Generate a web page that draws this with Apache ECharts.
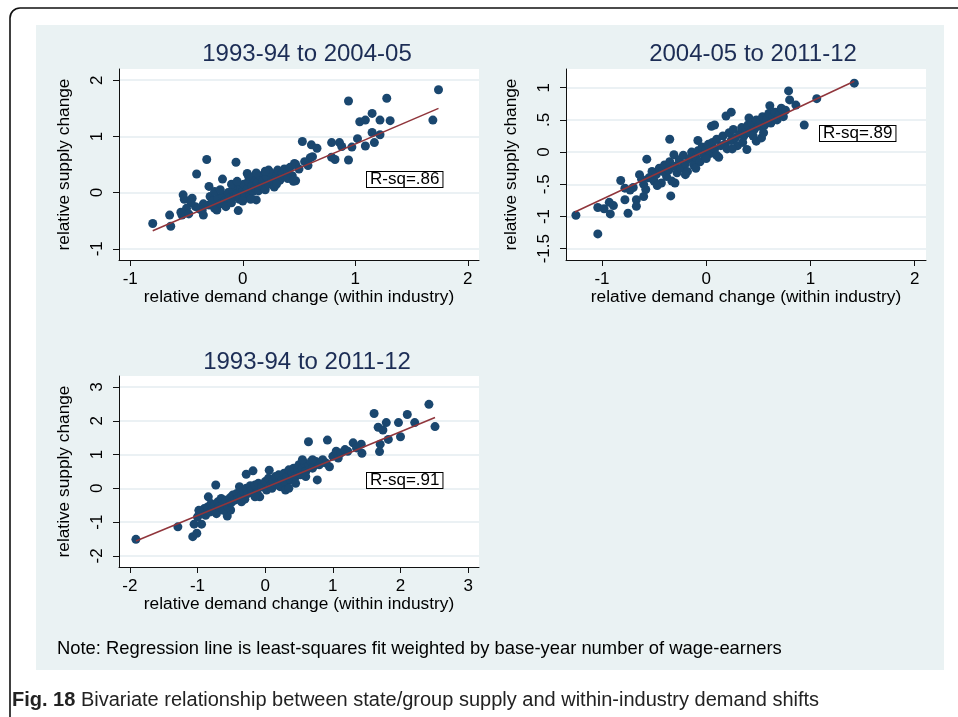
<!DOCTYPE html>
<html><head><meta charset="utf-8">
<script src="https://cdn.jsdelivr.net/npm/echarts@6/dist/echarts.min.js"></script>
<style>html,body{margin:0;padding:0;background:#fff}#c{width:958px;height:717px}</style>
</head><body><div id="c"></div>
<script>
// ---------- data ----------
const panelTitles = ['1993-94 to 2004-05', '2004-05 to 2011-12', '1993-94 to 2011-12'];
const rsqLabels = ['R-sq=.86', 'R-sq=.89', 'R-sq=.91'];
const xAxisName = 'relative demand change (within industry)';
const yAxisName = 'relative supply change';
const noteText = 'Note: Regression line is least-squares fit weighted by base-year number of wage-earners';
const captionBold = 'Fig. 18';
const captionText = ' Bivariate relationship between state/group supply and within-industry demand shifts';

const p1XTicks = [-1, 0, 1, 2];
const p1YTicks = [-1, 0, 1, 2];
const p2XTicks = [-1, 0, 1, 2];
const p2YTicks = [-1.5, -1, -0.5, 0, 0.5, 1];
const p3XTicks = [-2, -1, 0, 1, 2, 3];
const p3YTicks = [-2, -1, 0, 1, 2, 3];

const p1Fit = [[-0.80, -0.68], [1.74, 1.50]];
const p2Fit = [[-1.26, -0.93], [1.42, 1.10]];
const p3Fit = [[-1.91, -1.56], [2.51, 2.10]];

const p1Points = [
  [-0.80,-0.55],[-0.65,-0.40],[-0.64,-0.60],[-0.54,-0.40],[-0.53,-0.04],[-0.52,-0.12],[-0.45,-0.10],
  [-0.41,0.33],[-0.32,0.59],[-0.36,-0.31],[-0.35,-0.40],[-0.30,0.11],[-0.29,-0.07],[-0.23,-0.31],
  [-0.18,0.24],[-0.06,0.54],[-0.04,-0.32],[0.04,0.34],[0.12,-0.13],[0.23,0.40],[0.27,0.14],[0.45,0.20],
  [0.46,0.52],[0.53,0.91],[0.62,0.64],[0.61,0.85],[0.66,0.79],[0.60,0.62],[0.47,0.21],[0.79,0.89],
  [0.86,0.89],[0.88,0.82],[0.79,0.63],[0.82,0.59],[0.94,1.63],[0.94,0.58],[0.97,0.81],[1.02,0.96],
  [1.04,1.26],[1.09,1.29],[1.09,0.83],[1.15,1.41],[1.15,1.07],[1.17,0.89],[1.22,1.29],[1.22,1.03],
  [1.28,1.68],[1.31,1.28],[1.69,1.29],[1.74,1.83],
  [-0.30,-0.22],[-0.27,-0.15],[-0.25,-0.28],[-0.22,-0.10],[-0.20,-0.20],[-0.18,-0.05],[-0.16,-0.15],
  [-0.15,-0.25],[-0.13,0.00],[-0.12,-0.10],[-0.10,-0.18],[-0.09,0.05],[-0.08,-0.08],[-0.06,0.10],
  [-0.05,-0.02],[-0.03,-0.12],[-0.02,0.08],[0.00,0.02],[0.01,0.15],[0.02,-0.05],[0.04,0.06],[0.05,0.20],
  [0.06,-0.08],[0.08,0.12],[0.09,0.02],[0.10,0.25],[0.11,0.08],[0.13,0.18],[0.14,0.03],[0.15,0.30],
  [0.17,0.12],[0.18,0.22],[0.20,0.05],[0.21,0.28],[0.23,0.15],[0.25,0.35],[0.26,0.20],[0.28,0.10],
  [0.30,0.30],[0.31,0.40],[0.33,0.22],[0.35,0.35],[0.37,0.42],[0.38,0.28],[0.40,0.38],[0.42,0.45],
  [0.44,0.30],[0.47,0.50],[0.50,0.42],[0.55,0.55],[0.58,0.48],[0.40,0.25],[0.45,0.22],[0.30,0.15],
  [-0.35,-0.20],[-0.38,-0.30],[-0.42,-0.25],[-0.46,-0.18],[-0.50,-0.28],[-0.55,-0.35],[-0.48,-0.38],
  [-0.25,0.02],[-0.20,0.05],[-0.10,0.15],[0.00,-0.15],[0.07,-0.12],[0.12,0.35],[0.20,0.38],[0.05,0.30],
  [-0.05,0.20]
];

const p2Points = [
  [-1.25,-0.98],[-1.04,-1.27],[-1.04,-0.86],[-0.98,-0.88],[-0.92,-0.96],[-0.93,-0.78],[-0.89,-0.83],
  [-0.82,-0.44],[-0.78,-0.56],[-0.78,-0.74],[-0.75,-0.95],[-0.73,-0.59],[-0.67,-0.74],[-0.67,-0.84],
  [-0.64,-0.35],[-0.60,-0.69],[-0.57,-0.11],[-0.35,0.20],[-0.34,-0.68],[-0.30,-0.48],[-0.31,-0.04],
  [-0.08,0.18],[0.05,0.40],[0.08,0.42],[0.19,0.56],[0.24,0.62],[0.39,0.04],[0.41,0.53],[0.48,0.17],
  [0.53,0.22],[0.79,0.95],[0.80,0.81],[0.86,0.73],[0.94,0.42],[1.06,0.83],[1.42,1.07],[0.61,0.72],
  [-0.55,-0.40],[-0.52,-0.30],[-0.50,-0.45],[-0.48,-0.35],[-0.45,-0.25],[-0.43,-0.48],[-0.42,-0.30],
  [-0.40,-0.20],[-0.38,-0.38],[-0.36,-0.28],[-0.35,-0.15],[-0.33,-0.45],[-0.30,-0.22],[-0.28,-0.32],
  [-0.26,-0.12],[-0.24,-0.25],[-0.22,-0.05],[-0.20,-0.18],[-0.18,-0.30],[-0.16,-0.10],[-0.14,0.00],
  [-0.12,-0.20],[-0.10,-0.08],[-0.08,0.02],[-0.06,-0.15],[-0.04,0.08],[-0.02,-0.05],[0.00,0.05],
  [0.02,0.12],[0.04,-0.02],[0.06,0.15],[0.08,0.05],[0.10,0.20],[0.12,-0.08],[0.14,0.10],[0.16,0.25],
  [0.18,0.12],[0.20,0.05],[0.22,0.30],[0.24,0.18],[0.26,0.35],[0.28,0.22],[0.30,0.10],[0.32,0.28],
  [0.34,0.38],[0.36,0.25],[0.38,0.32],[0.40,0.42],[0.42,0.30],[0.44,0.45],[0.46,0.35],[0.48,0.50],
  [0.50,0.40],[0.52,0.48],[0.54,0.55],[0.56,0.42],[0.58,0.52],[0.60,0.60],[0.62,0.45],[0.64,0.55],
  [0.66,0.62],[0.68,0.50],[0.70,0.58],[0.72,0.68],[0.74,0.55],[0.76,0.65],[-0.60,-0.50],[-0.62,-0.42],
  [-0.58,-0.58],[-0.70,-0.55],[-0.47,-0.52],[-0.20,-0.35],[-0.10,-0.25],[0.00,-0.10],[0.10,-0.05],
  [0.25,0.05],[0.35,0.15],[0.45,0.25],[0.55,0.30]
];

const p3Points = [
  [-1.91,-1.51],[-1.29,-1.14],[-1.07,-1.43],[-1.01,-1.33],[-1.05,-1.06],[-0.94,-1.06],[-0.97,-0.69],
  [-0.84,-0.25],[-0.73,0.10],[-0.70,-0.64],[-0.56,-0.82],[-0.51,-0.64],[-0.28,0.42],[-0.18,0.52],
  [-0.08,-0.25],[0.06,0.54],[0.64,1.38],[0.92,1.43],[0.77,0.25],[0.95,0.64],[1.30,1.35],[1.42,1.31],
  [1.43,1.04],[1.61,2.22],[1.67,1.81],[1.70,1.31],[1.69,1.09],[1.74,1.73],[1.79,1.95],[1.82,1.45],
  [1.97,1.95],[2.00,1.53],[2.10,2.19],[2.21,1.95],[2.42,2.49],[2.51,1.83],
  [-0.95,-0.75],[-0.90,-0.60],[-0.88,-0.80],[-0.85,-0.55],[-0.82,-0.70],[-0.80,-0.45],[-0.78,-0.62],
  [-0.75,-0.50],[-0.72,-0.75],[-0.70,-0.40],[-0.68,-0.55],[-0.65,-0.30],[-0.62,-0.65],[-0.60,-0.45],
  [-0.58,-0.35],[-0.55,-0.55],[-0.52,-0.28],[-0.50,-0.42],[-0.48,-0.20],[-0.45,-0.35],[-0.42,-0.15],
  [-0.40,-0.30],[-0.38,0.05],[-0.35,-0.22],[-0.32,-0.10],[-0.30,-0.32],[-0.28,0.00],[-0.25,-0.15],
  [-0.22,0.08],[-0.20,-0.05],[-0.15,0.10],[-0.12,-0.12],[-0.10,0.15],[-0.05,0.05],[0.00,0.20],
  [0.02,-0.05],[0.05,0.30],[0.08,0.10],[0.10,0.00],[0.12,0.20],[0.15,0.35],[0.18,0.12],[0.20,0.40],
  [0.22,0.05],[0.25,0.25],[0.28,0.45],[0.30,0.15],[0.32,0.35],[0.35,0.55],[0.38,0.25],[0.40,0.45],
  [0.42,0.60],[0.45,0.35],[0.48,0.55],[0.50,0.70],[0.52,0.40],[0.55,0.60],[0.58,0.75],[0.60,0.50],
  [0.65,0.70],[0.68,0.80],[0.70,0.60],[0.75,0.80],[0.80,0.70],[0.85,0.85],[0.90,0.75],[1.00,0.95],
  [1.05,1.10],[1.08,0.90],[1.12,1.05],[1.18,1.15],[1.22,1.10],[1.35,1.20],[-1.00,-0.85],[-0.98,-0.65],
  [0.30,-0.05],[0.45,0.15],[0.60,0.35],[0.35,0.00],[-0.15,-0.25],[-0.35,-0.40],[0.70,0.85],[0.55,0.85]
];

// ---------- styling ----------
const FONT = '"Liberation Sans", Arial, sans-serif';
const DOT = '#1a476f';
const FITC = '#90353b';
const AXC = '#111';
const GRIDC = '#e4edf0';
const BG = '#eaf2f3';
const TICKFS = 17;
const NAMEFS = 17.3;

function fmt(v) { return String(v).replace(/^(-?)0\./, '$1.'); }

function xAxisCfg(gi, min, max, ticks) {
  return {
    gridIndex: gi, type: 'value', min: min, max: max,
    name: xAxisName, nameLocation: 'middle', nameGap: 26,
    nameTextStyle: { fontSize: NAMEFS, color: '#000', fontFamily: FONT },
    axisLine: { show: true, onZero: false, lineStyle: { color: AXC, width: 1 } },
    axisTick: { show: true, length: 6, customValues: ticks, lineStyle: { color: AXC, width: 1 } },
    axisLabel: { customValues: ticks, margin: 11, fontSize: TICKFS, color: '#000', fontFamily: FONT, formatter: fmt },
    splitLine: { show: false }
  };
}
function yAxisCfg(gi, min, max, ticks) {
  return {
    gridIndex: gi, type: 'value', min: min, max: max,
    name: yAxisName, nameLocation: 'middle', nameGap: 46,
    nameTextStyle: { fontSize: NAMEFS, color: '#000', fontFamily: FONT },
    axisLine: { show: true, onZero: false, lineStyle: { color: AXC, width: 1 } },
    axisTick: { show: true, length: 6, customValues: ticks, lineStyle: { color: AXC, width: 1 } },
    axisLabel: { customValues: ticks, margin: 13, rotate: 90, fontSize: TICKFS, color: '#000', fontFamily: FONT, formatter: fmt },
    splitLine: { show: true, lineStyle: { color: GRIDC, width: 1.5 } }
  };
}
function scatterS(i, data) {
  return { type: 'scatter', xAxisIndex: i, yAxisIndex: i, data: data, symbolSize: 9,
    itemStyle: { color: DOT, opacity: 1 }, silent: true, z: 2 };
}
function fitS(i, data) {
  return { type: 'line', xAxisIndex: i, yAxisIndex: i, data: data, symbol: 'none',
    lineStyle: { color: FITC, width: 1.5 }, silent: true, z: 3 };
}
function rsqBox(txt, x, y) {
  return { type: 'text', x: x, y: y, z: 50,
    style: { text: txt, fontSize: 17, fontFamily: FONT, fill: '#000',
      backgroundColor: '#fff', borderColor: '#000', borderWidth: 1,
      padding: [0, 3, 0, 3], lineHeight: 15 } };
}
const titleStyle = { fontSize: 24, fontWeight: 'normal', color: '#1c2d55', fontFamily: FONT };

const chart = echarts.init(document.getElementById('c'), null, { renderer: 'canvas' });
chart.setOption({
  animation: false,
  backgroundColor: '#fff',
  title: [
    { text: panelTitles[0], left: 302, top: 37, textAlign: 'center', textStyle: titleStyle },
    { text: panelTitles[1], left: 748, top: 37, textAlign: 'center', textStyle: titleStyle },
    { text: panelTitles[2], left: 302, top: 345, textAlign: 'center', textStyle: titleStyle }
  ],
  grid: [
    { left: 119, top: 69, width: 360, height: 191, show: true, backgroundColor: '#fff', borderWidth: 0 },
    { left: 566, top: 69, width: 360, height: 191, show: true, backgroundColor: '#fff', borderWidth: 0 },
    { left: 119, top: 376, width: 360, height: 191, show: true, backgroundColor: '#fff', borderWidth: 0 }
  ],
  xAxis: [
    xAxisCfg(0, -1.1, 2.1, p1XTicks),
    xAxisCfg(1, -1.345, 2.108, p2XTicks),
    xAxisCfg(2, -2.16, 3.16, p3XTicks)
  ],
  yAxis: [
    yAxisCfg(0, -1.2, 2.2, p1YTicks),
    yAxisCfg(1, -1.675, 1.29, p2YTicks),
    yAxisCfg(2, -2.33, 3.33, p3YTicks)
  ],
  series: [
    scatterS(0, p1Points), fitS(0, p1Fit),
    scatterS(1, p2Points), fitS(1, p2Fit),
    scatterS(2, p3Points), fitS(2, p3Fit)
  ],
  graphic: [
    { type: 'rect', z: -100, silent: true, shape: { x: 36, y: 25, width: 908, height: 645 }, style: { fill: BG } },
    { type: 'rect', z: -90, silent: true, shape: { x: 10, y: 8, width: 1000, height: 760, r: 10 }, style: { fill: 'none', stroke: '#111', lineWidth: 1.6 } },
    rsqBox(rsqLabels[0], 367, 172),
    rsqBox(rsqLabels[1], 820, 126),
    rsqBox(rsqLabels[2], 367, 473),
    { type: 'text', x: 57, y: 649, z: 50, style: { text: noteText, fontSize: 18.4, fontFamily: FONT, fill: '#000', verticalAlign: 'middle' } },
    { type: 'text', x: 12, y: 700, z: 50, style: { text: '{b|' + captionBold + '}' + captionText, fontSize: 20, fontFamily: FONT, fill: '#222', verticalAlign: 'middle',
        rich: { b: { fontWeight: 'bold', fontSize: 20, fontFamily: FONT, fill: '#222' } } } }
  ]
});
</script>
</body></html>
